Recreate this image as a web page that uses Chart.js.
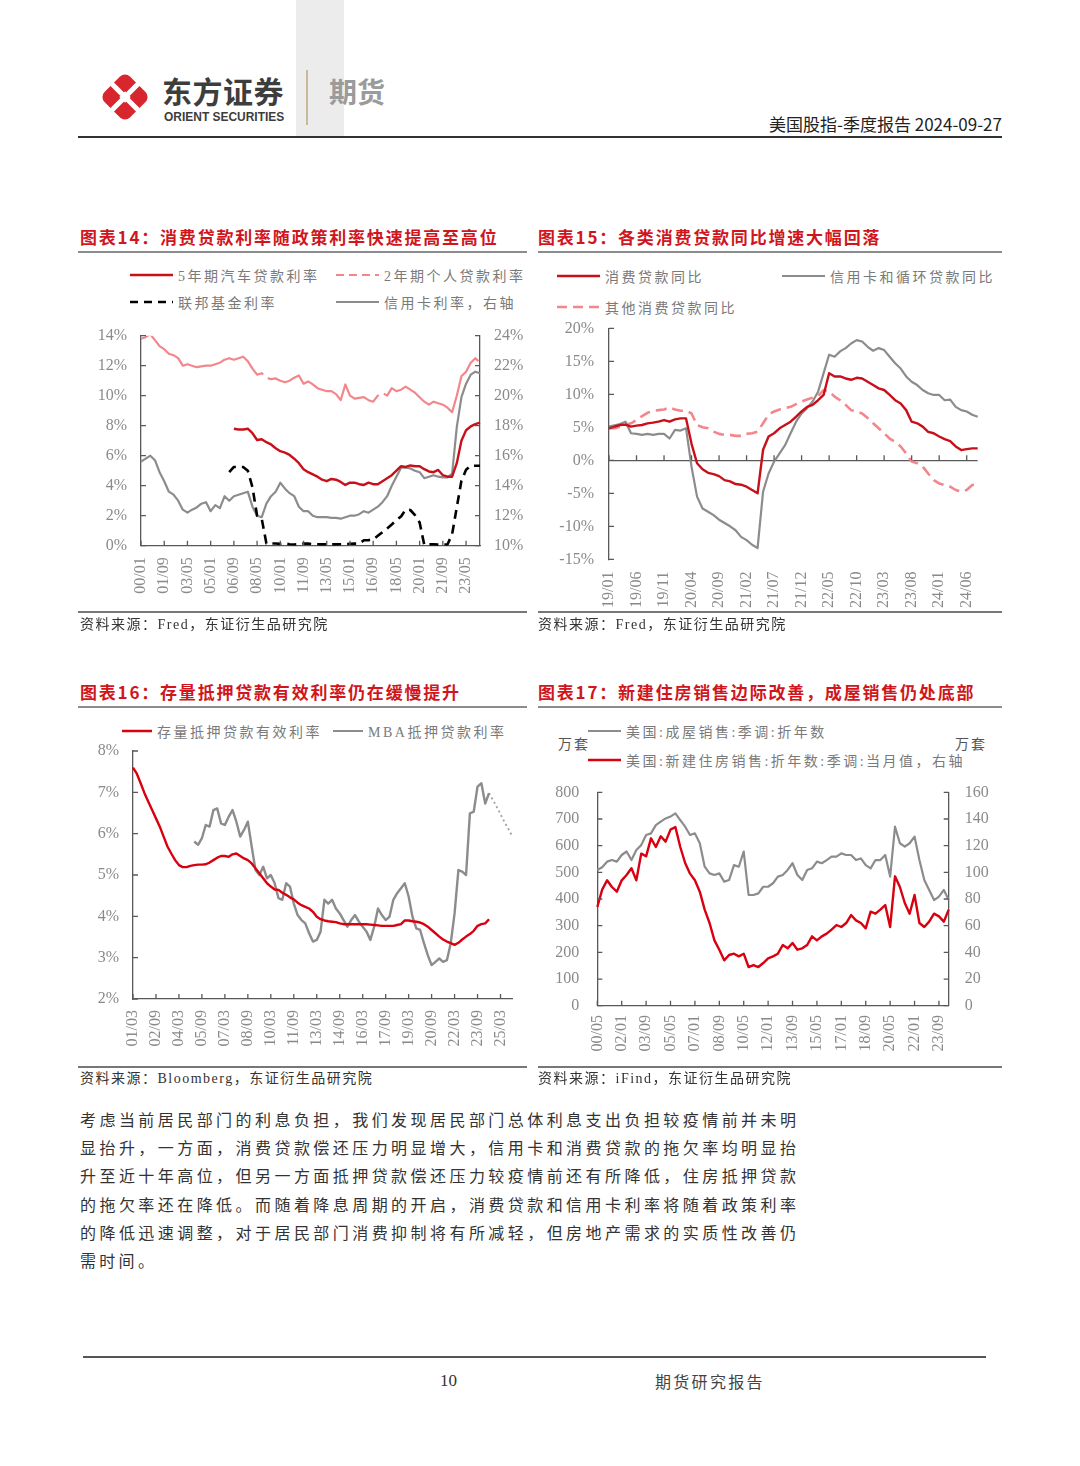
<!DOCTYPE html>
<html lang="zh-CN">
<head>
<meta charset="utf-8">
<title>美国股指-季度报告</title>
<script src="https://cdn.jsdelivr.net/npm/chart.js@4.4.1/dist/chart.umd.min.js"></script>
<style>
  body{margin:0;background:#fff;}
  #page{position:relative;width:1080px;height:1466px;overflow:hidden;font-family:"Noto Sans CJK SC","Noto Sans",sans-serif;color:#333;}
  .a{position:absolute;white-space:nowrap;}
  .ttl{font-size:17px;font-weight:700;color:#d0161c;letter-spacing:1.8px;line-height:20px;}
  .rule{position:absolute;background:#8c8c8c;}
  .src{font-family:"Liberation Serif","Noto Sans CJK SC",serif;font-size:14px;letter-spacing:1.5px;color:#333;line-height:18px;}
  .lg{position:absolute;display:flex;align-items:center;height:20px;font-family:"Liberation Serif","Noto Sans CJK SC",serif;font-size:14px;letter-spacing:2.5px;color:#7a7a7a;white-space:nowrap;}
  .lg svg{margin-right:5px;}
  .body{position:absolute;left:80px;top:1105px;font-size:16px;color:#333;}
  .body div{height:28.2px;line-height:28.2px;width:716px;text-align:justify;text-align-last:justify;white-space:nowrap;}
  canvas{position:absolute;}
</style>
</head>
<body>
<div id="page">
  <!-- 页眉 -->
  <div class="a" style="left:296px;top:0;width:48px;height:137px;background:#ececec"></div>
  <svg class="a" style="left:97px;top:69px" width="56" height="56" viewBox="-28 -28 56 56">
    <rect x="-18" y="-18" width="36" height="36" rx="7" fill="#d7262d" transform="rotate(45)"/>
    <path d="M-20 -20 L20 20 M20 -20 L-20 20" stroke="#fff" stroke-width="5"/>
    <rect x="-4" y="-4" width="8" height="8" fill="#fff" transform="rotate(45)"/>
  </svg>
  <div class="a" style="left:162px;top:72px;font-size:30px;font-weight:700;color:#3d3d3d;letter-spacing:0.5px;line-height:36px">东方证券</div>
  <div class="a" style="left:164px;top:109px;font-family:'Liberation Sans',sans-serif;font-size:13px;font-weight:700;color:#3d3d3d;line-height:15px;transform:scaleX(0.92);transform-origin:left">ORIENT SECURITIES</div>
  <div class="a" style="left:306px;top:70px;width:1.5px;height:55px;background:#c9b99b"></div>
  <div class="a" style="left:329px;top:74px;font-size:28px;font-weight:700;color:#9b9b9b;line-height:34px">期货</div>
  <div class="a" style="right:78px;top:113px;font-size:17px;color:#222;line-height:22px">美国股指-季度报告 2024-09-27</div>
  <div class="a" style="left:78px;top:136px;width:924px;height:1.5px;background:#333"></div>

  <!-- 标题 -->
  <div class="a ttl" style="left:80px;top:227px">图表14：消费贷款利率随政策利率快速提高至高位</div>
  <div class="rule" style="left:78px;top:251px;width:449px;height:2px"></div>
  <div class="a ttl" style="left:538px;top:227px">图表15：各类消费贷款同比增速大幅回落</div>
  <div class="rule" style="left:538px;top:251px;width:464px;height:2px"></div>
  <div class="a ttl" style="left:80px;top:682px">图表16：存量抵押贷款有效利率仍在缓慢提升</div>
  <div class="rule" style="left:78px;top:706px;width:449px;height:2px"></div>
  <div class="a ttl" style="left:538px;top:682px">图表17：新建住房销售边际改善，成屋销售仍处底部</div>
  <div class="rule" style="left:538px;top:706px;width:464px;height:2px"></div>

  <div id="legends"></div>
  <div class="a" style="left:558px;top:733px;font-size:14px;color:#555;letter-spacing:2px">万套</div>
  <div class="a" style="left:955px;top:733px;font-size:14px;color:#555;letter-spacing:2px">万套</div>

  <canvas id="c14" width="450" height="300" style="left:78px;top:320px"></canvas>
  <canvas id="c15" width="480" height="297" style="left:535px;top:315px"></canvas>
  <canvas id="c16" width="470" height="325" style="left:78px;top:738px"></canvas>
  <canvas id="c17" width="470" height="285" style="left:535px;top:780px"></canvas>

  <!-- 资料来源 -->
  <div class="rule" style="left:78px;top:611px;width:449px;height:1.5px;background:#777"></div>
  <div class="rule" style="left:538px;top:611px;width:464px;height:1.5px;background:#777"></div>
  <div class="a src" style="left:80px;top:616px">资料来源：Fred，东证衍生品研究院</div>
  <div class="a src" style="left:538px;top:616px">资料来源：Fred，东证衍生品研究院</div>
  <div class="rule" style="left:78px;top:1066px;width:449px;height:1.5px;background:#777"></div>
  <div class="rule" style="left:538px;top:1066px;width:464px;height:1.5px;background:#777"></div>
  <div class="a src" style="left:80px;top:1070px">资料来源：Bloomberg，东证衍生品研究院</div>
  <div class="a src" style="left:538px;top:1070px">资料来源：iFind，东证衍生品研究院</div>

  <div class="body">
    <div>考虑当前居民部门的利息负担，我们发现居民部门总体利息支出负担较疫情前并未明</div>
    <div>显抬升，一方面，消费贷款偿还压力明显增大，信用卡和消费贷款的拖欠率均明显抬</div>
    <div>升至近十年高位，但另一方面抵押贷款偿还压力较疫情前还有所降低，住房抵押贷款</div>
    <div>的拖欠率还在降低。而随着降息周期的开启，消费贷款和信用卡利率将随着政策利率</div>
    <div>的降低迅速调整，对于居民部门消费抑制将有所减轻，但房地产需求的实质性改善仍</div>
    <div style="text-align:left;text-align-last:left;letter-spacing:3.3px">需时间。</div>
  </div>

  <!-- 页脚 -->
  <div class="a" style="left:83px;top:1356px;width:903px;height:1.5px;background:#555"></div>
  <div class="a" style="left:440px;top:1371px;font-family:'Liberation Serif',serif;font-size:17px;color:#333;line-height:20px">10</div>
  <div class="a" style="left:655px;top:1371px;font-size:16px;letter-spacing:2.3px;color:#444;line-height:20px">期货研究报告</div>
</div>

<script>
// 月份标签：起始年月、步长（月）、个数
const months = (y, m, step, n) => Array.from({length:n}, (_, i) => {
  const t = y*12 + m - 1 + i*step;
  return String(Math.floor(t/12) % 100).padStart(2,'0') + '/' + String(t%12 + 1).padStart(2,'0');
});
const nulls = n => Array(n).fill(null);

// ---- 图表14：2000/01 起，每4个月一个点 ----
const LBL14 = months(2000, 1, 4, 74);
const TICK14 = ['00/01','01/09','03/05','05/01','06/09','08/05','10/01','11/09','13/05','15/01','16/09','18/05','20/01','21/09','23/05'];
const NAME14 = ['5年期汽车贷款利率','2年期个人贷款利率','联邦基金利率','信用卡利率，右轴'];
const AUTO14 = [...nulls(20),
  7.8,7.75,7.75,7.8,7.5, 7.05,7.1,6.9,6.75,6.5, 6.3,6.2,6.05,5.8,5.5, 5.1,4.9,4.75,4.6,4.4,
  4.3,4.45,4.4,4.25,4.05, 4.2,4.2,4.1,4.05,4.2, 4.1,4.1,4.3,4.5,4.7, 5.0,5.3,5.25,5.35,5.3,
  5.3,5.1,4.95,4.9,5.05, 4.7,4.6,4.6,5.5,7.0, 7.7,7.95,8.1,8.2];
const PERS14 = [13.8,13.9,14.1,13.7,13.3,13.1,12.8,12.7,12.5,12.0,
  12.1,12.0,11.9,11.95,12.0,12.0,12.1,12.2,12.4,12.5,
  12.4,12.5,12.6,12.3,11.8,11.4,11.5,11.2,11.1,11.15,
  11.0,10.9,11.0,11.2,11.35,10.8,10.95,10.75,10.5,10.4,
  10.3,10.3,10.1,9.7,10.75,10.0,9.8,9.85,9.9,9.7,
  9.6,10.0,10.2,10.0,10.5,10.3,10.4,10.6,10.4,10.2,
  9.9,9.6,9.4,9.6,9.5,9.4,9.2,8.9,10.0,11.3,
  11.6,12.2,12.5,12.2];
const FFR14 = [...nulls(19),
  4.9,5.25,5.25,5.25,5.0, 3.9,2.0,1.8,0.15,0.15, 0.15,0.12,0.15,0.1,0.08, 0.1,0.15,0.14,0.1,0.1,
  0.09,0.09,0.09,0.09,0.1, 0.11,0.13,0.14,0.14,0.36, 0.37,0.4,0.66,0.91,1.15, 1.41,1.7,1.95,2.4,2.38,
  2.04,1.55,0.05,0.09,0.09, 0.07,0.08,0.08,0.77,2.56, 4.33,5.06,5.33,5.33,5.33];
const CARD14 = [15.6,15.8,16.0,15.7,14.9,14.3,13.6,13.4,13.0,12.4,
  12.2,12.4,12.55,12.8,12.9,12.3,12.7,12.5,13.3,13.0,
  13.3,13.4,13.5,13.6,12.6,12.0,11.9,12.8,13.3,13.6,
  14.2,13.8,13.5,13.3,12.6,12.3,12.3,12.0,11.9,11.9,
  11.9,11.85,11.85,11.8,11.9,12.0,12.0,12.1,12.3,12.2,
  12.4,12.6,12.9,13.3,14.0,14.6,15.2,15.2,15.15,15.0,
  14.9,14.5,14.6,14.7,14.6,14.55,14.55,14.8,17.9,19.9,
  20.8,21.4,21.6,21.5];

// ---- 图表15：2019/01 起，月度 ----
const LBL15 = months(2019, 1, 1, 68);
const TICK15 = ['19/01','19/06','19/11','20/04','20/09','21/02','21/07','21/12','22/05','22/10','23/03','23/08','24/01','24/06'];
const NAME15 = ['消费贷款同比','信用卡和循环贷款同比','其他消费贷款同比'];
const CONS15 = [4.85,5.1,5.35,5.4,5.1,5.25,5.35,5.6,5.7,5.85,
  6.1,5.85,6.2,6.35,6.35,2.5,-0.45,-1.35,-1.9,-2.1,
  -2.4,-3.0,-3.2,-3.6,-3.7,-4.0,-4.5,-5.0,1.6,3.6,
  4.1,4.85,5.35,5.85,6.6,7.4,8.1,8.4,9.1,9.9,
  13.2,12.7,12.7,12.4,12.2,12.5,12.4,11.9,11.4,10.9,
  10.65,9.9,9.1,8.6,7.6,5.85,5.6,5.1,4.3,4.1,
  3.6,3.2,2.9,2.1,1.55,1.7,1.8,1.8];
const CARD15 = [5.1,5.3,5.5,5.85,4.1,4.0,3.85,4.0,3.85,4.0,
  4.0,3.3,4.6,4.5,4.85,-1.0,-5.5,-7.3,-7.8,-8.3,
  -9.0,-9.5,-10.0,-10.6,-11.6,-12.1,-12.8,-13.3,-4.75,-2.0,
  -0.2,1.05,2.3,4.1,5.85,7.1,7.9,8.9,10.4,13.2,
  16.0,15.7,16.5,17.0,17.7,18.2,18.0,17.2,16.6,17.0,
  16.7,15.7,14.7,13.9,12.7,11.9,11.4,10.65,10.15,9.9,
  9.9,9.1,9.2,8.1,7.6,7.4,6.9,6.6];
const OTHER15 = [4.85,4.85,5.1,5.35,5.6,6.1,6.7,7.2,7.5,7.6,
  7.7,8.0,7.7,7.5,7.5,7.1,5.35,5.0,4.85,4.35,
  4.0,3.85,3.85,3.7,3.7,4.0,4.1,4.35,5.6,6.9,
  7.4,7.7,7.9,8.1,8.5,8.9,9.2,9.5,9.75,10.65,
  10.4,9.65,9.1,8.4,7.6,7.4,7.1,6.4,5.6,4.85,
  4.1,3.3,2.8,2.1,1.05,-0.2,-0.45,-0.95,-2.0,-3.0,
  -3.5,-3.75,-4.0,-4.5,-4.75,-4.5,-3.75,-3.6];

// ---- 图表16：2001/03 起，每3个月一个点 ----
const LBL16 = months(2001, 3, 3, 100);
const TICK16 = ['01/03','02/09','04/03','05/09','07/03','08/09','10/03','11/09','13/03','14/09','16/03','17/09','19/03','20/09','22/03','23/09','25/03'];
const NAME16 = ['存量抵押贷款有效利率','MBA抵押贷款利率'];
const EFF16 = [7.6,7.45,7.22,6.98,6.77,6.57,6.37,6.17,5.93,5.69,
  5.52,5.36,5.24,5.19,5.19,5.22,5.24,5.25,5.25,5.26,
  5.3,5.36,5.42,5.46,5.46,5.44,5.5,5.52,5.46,5.4,
  5.36,5.28,5.16,5.04,4.92,4.8,4.72,4.65,4.64,4.57,
  4.52,4.46,4.41,4.33,4.27,4.23,4.19,4.11,3.99,3.93,
  3.9,3.88,3.87,3.86,3.83,3.81,3.81,3.81,3.81,3.81,
  3.81,3.81,3.8,3.79,3.78,3.77,3.77,3.77,3.77,3.79,
  3.81,3.9,3.9,3.88,3.87,3.85,3.81,3.75,3.67,3.59,
  3.51,3.44,3.39,3.35,3.31,3.36,3.44,3.51,3.57,3.65,
  3.77,3.81,3.83,3.93, ...nulls(6)];
const MBA16 = [...nulls(16),
  5.81,5.73,5.89,6.21,6.17,6.57,6.61,6.25,6.21,6.41,
  6.57,6.29,5.93,6.09,6.29,5.69,5.12,5.0,5.2,4.92,
  5.0,4.8,4.44,4.4,4.8,4.72,4.31,4.03,3.91,3.83,
  3.59,3.39,3.43,3.63,4.4,4.31,4.4,4.19,4.07,3.91,
  3.75,3.91,4.03,3.87,3.75,3.63,3.43,3.75,4.19,4.03,
  3.91,3.99,4.4,4.56,4.68,4.8,4.48,3.99,3.71,3.67,
  3.35,3.06,2.82,2.9,2.98,2.9,2.94,3.35,4.07,5.12,
  5.08,5.0,6.49,6.53,7.14,7.22,6.73,6.98, ...nulls(6)];
const PROJ16 = [...nulls(93), 6.98,6.82,6.65,6.47,6.29,6.12,5.95];

// ---- 图表17：2000/05 起，每4个月一个点 ----
const LBL17 = months(2000, 5, 4, 73);
const TICK17 = ['00/05','02/01','03/09','05/05','07/01','08/09','10/05','12/01','13/09','15/05','17/01','18/09','20/05','22/01','23/09'];
const NAME17 = ['美国:成屋销售:季调:折年数','美国:新建住房销售:折年数:季调:当月值，右轴'];
const EXIST17 = [509,519,540,546,540,565,578,546,584,602,
  640,646,677,690,702,709,721,696,671,640,
  646,609,521,496,490,496,465,471,527,521,
  578,415,415,421,446,446,459,484,490,509,
  534,490,471,509,515,540,534,546,559,559,
  571,565,565,546,552,527,515,546,546,565,
  484,671,609,596,609,634,546,471,434,396,
  409,434,396];
const NEW17 = [74,87,94,89,85.5,94,98,103,94,114,
  112,125.5,119,127,123,132,134,119,107,99,
  94,85.5,72,62,49,42,34,38,39,37,
  39,29,30.5,29,32,35.5,37,39,45.5,43,
  47,42,43,45.5,52,49,52,54,57,60.5,
  59,62,68,64,62,58,70.5,69,72,75.5,
  59,97,89,77,69,83,62,59,63,69,
  67,63,72];

const AXIS = '#595959', TICKC = '#8a8a8a';
const RED = '#c8101a', RED2 = '#d9000f', PINK = '#f2868a', GREY = '#8c8c8c';
const SERIF = '"Liberation Serif","Noto Sans CJK SC",serif';

// 刻度线画在坐标轴内侧
const innerTicks = {
  id:'innerTicks',
  afterDatasetsDraw(chart, args, o){
    const {ctx, chartArea:a, scales} = chart, L = 5;
    ctx.save(); ctx.strokeStyle = AXIS; ctx.lineWidth = 1.3; ctx.beginPath();
    const x = scales.x, base = o.zero ? scales.y.getPixelForValue(0) : a.bottom;
    x.ticks.forEach((t,i)=>{
      if (!t.label) return;
      const px = x.getPixelForTick(i);
      ctx.moveTo(px, base); ctx.lineTo(px, base - L);
    });
    Object.values(scales).filter(s=>s.axis==='y').forEach(s=>{
      const left = s.position === 'left', x0 = left ? a.left : a.right;
      s.ticks.forEach((t,i)=>{ const py = s.getPixelForTick(i); ctx.moveTo(x0, py); ctx.lineTo(x0 + (left ? L : -L), py); });
    });
    ctx.stroke(); ctx.restore();
  }
};

const pct = v => v + '%';
const yAxis = (position, min, max, stepSize, w, tl, fmt, extra={}) => ({
  position, min, max,
  border:{ color:AXIS, width:1.3 },
  grid:{ display:false, drawTicks:true, tickLength:tl, tickColor:'rgba(0,0,0,0)' },
  ticks:{ stepSize, padding:0, color:TICKC, font:{ family:SERIF, size:16 }, callback:fmt },
  afterFit(s){ s.width = w; },
  ...extra
});
const xAxis = (show, h, tl, border=true) => ({
  type:'category',
  border:{ display:border, color:AXIS, width:1.3 },
  grid:{ display:false, drawTicks:true, tickLength:tl },
  ticks:{ autoSkip:false, minRotation:90, maxRotation:90, padding:0, color:TICKC, font:{ family:SERIF, size:16 },
    callback(v){ const l = this.getLabelForValue(v); return show.includes(l) ? l : ''; } },
  afterFit(s){ s.height = h; }
});
const ds = (label, data, borderColor, borderWidth, borderDash=[], yAxisID='y') =>
  ({ label, data, borderColor, borderWidth, borderDash, yAxisID, pointRadius:0, fill:false });

const mkLine = (id, labels, datasets, scales, padding, inner={}) =>
  new Chart(document.getElementById(id), {
    type:'line',
    data:{ labels, datasets },
    options:{
      responsive:false, animation:false,
      layout:{ padding },
      plugins:{ legend:{ display:false }, tooltip:{ enabled:false }, innerTicks:inner },
      elements:{ line:{ tension:0, borderJoinStyle:'round' } },
      scales
    },
    plugins:[innerTicks]
  });

mkLine('c14', LBL14, [
  ds(NAME14[0], AUTO14, RED, 2.4),
  ds(NAME14[2], FFR14, '#000', 2.6, [9,6]),
  ds(NAME14[1], PERS14, PINK, 2.2, [150,6]),
  ds(NAME14[3], CARD14, GREY, 2.2, [], 'y1')
], {
  x: xAxis(TICK14, 74.3, 11.6),
  y: yAxis('left', 0, 14, 2, 63, 14, pct),
  y1: yAxis('right', 10, 24, 2, 48, 14, pct)
}, { top:15.7 });

mkLine('c15', LBL15, [
  ds(NAME15[0], CONS15, RED, 2.4),
  ds(NAME15[1], CARD15, GREY, 2.2),
  ds(NAME15[2], OTHER15, PINK, 2.6, [11,6])
], {
  x: xAxis(TICK15, 52.7, 12.3, false),
  y: yAxis('left', -15, 20, 5, 74, 15, pct, {
    grid:{ display:true, drawTicks:true, tickLength:15, tickColor:'rgba(0,0,0,0)', lineWidth:1.3,
      color: c => (c.tick && c.tick.value === 0) ? AXIS : 'rgba(0,0,0,0)' }
  })
}, { top:13.3, right:37.3 }, { zero:true });

mkLine('c16', LBL16, [
  ds(NAME16[0], EFF16, RED2, 2.4),
  ds(NAME16[1], MBA16, GREY, 2.4),
  ds('预测', PROJ16, '#a0a0a0', 1.8, [2,3])
], {
  x: xAxis(TICK16, 64, 11),
  y: yAxis('left', 2, 8, 1, 55, 14, pct)
}, { top:13, right:36 });

mkLine('c17', LBL17, [
  ds(NAME17[1], NEW17, RED2, 2.4, [], 'y1'),
  ds(NAME17[0], EXIST17, GREY, 2.2)
], {
  x: xAxis(TICK17, 59.3, 9.3),
  y: yAxis('left', 0, 800, 100, 62.3, 18, v => v),
  y1: yAxis('right', 0, 160, 20, 56.3, 16, v => v)
}, { top:12.3 });

// 图例（HTML）
const lg = (x, y, name, color, w, dash, len=43) =>
  `<div class="lg" style="left:${x}px;top:${y-10}px"><svg width="${len}" height="6"><line x1="0" y1="3" x2="${len}" y2="3" stroke="${color}" stroke-width="${w}" ${dash ? `stroke-dasharray="${dash}"` : ''}/></svg>${name}</div>`;
document.getElementById('legends').innerHTML = [
  lg(130, 275, NAME14[0], RED, 2.5),
  lg(336, 275, NAME14[1], PINK, 2.2, '8 5'),
  lg(130, 302, NAME14[2], '#000', 2.6, '8 6'),
  lg(336, 302, NAME14[3], GREY, 2),
  lg(557, 276, NAME15[0], RED, 2.5),
  lg(782, 276, NAME15[1], GREY, 2),
  lg(557, 307, NAME15[2], PINK, 2.5, '10 6'),
  lg(122, 731, NAME16[0], RED2, 2.5, null, 30),
  lg(333, 731, NAME16[1], GREY, 2, null, 30),
  lg(588, 731, NAME17[0], GREY, 2, null, 33),
  lg(588, 760, NAME17[1], RED2, 2.5, null, 33)
].join('');
</script>
</body>
</html>
